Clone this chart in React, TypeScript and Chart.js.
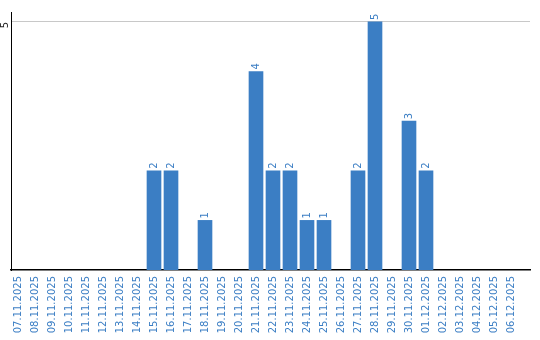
import React, { useEffect, useRef } from "react";
import { Chart, registerables } from "chart.js";

Chart.register(...registerables);

const dates = [
  "07.11.2025", "08.11.2025", "09.11.2025", "10.11.2025", "11.11.2025",
  "12.11.2025", "13.11.2025", "14.11.2025", "15.11.2025", "16.11.2025",
  "17.11.2025", "18.11.2025", "19.11.2025", "20.11.2025", "21.11.2025",
  "22.11.2025", "23.11.2025", "24.11.2025", "25.11.2025", "26.11.2025",
  "27.11.2025", "28.11.2025", "29.11.2025", "30.11.2025", "01.12.2025",
  "02.12.2025", "03.12.2025", "04.12.2025", "05.12.2025", "06.12.2025",
];
const counts = [
  0, 0, 0, 0, 0, 0, 0, 0, 2, 2,
  0, 1, 0, 0, 4, 2, 2, 1, 1, 0,
  2, 5, 0, 3, 2, 0, 0, 0, 0, 0,
];
const yTicks = [5];

const BLUE = "#3b7ec4";
const FONT = "DejaVu Sans";

const valueLabels = {
  id: "valueLabels",
  afterDatasetsDraw(chart: any) {
    const ctx = chart.ctx;
    const meta = chart.getDatasetMeta(0);
    ctx.save();
    ctx.fillStyle = BLUE;
    ctx.font = `10px "${FONT}"`;
    ctx.textAlign = "left";
    ctx.textBaseline = "middle";
    meta.data.forEach((el: any, i: number) => {
      const v = counts[i];
      if (!v) return;
      ctx.save();
      ctx.translate(el.x, el.y - 2);
      ctx.rotate(-Math.PI / 2);
      ctx.fillText(String(v), 0, 0);
      ctx.restore();
    });
    ctx.restore();
  },
};

export default function App() {
  const ref = useRef<HTMLCanvasElement>(null);
  useEffect(() => {
    if (!ref.current) return;
    const chart = new Chart(ref.current, {
      type: "bar",
      data: {
        datasets: [
          {
            data: counts.map((v, i) => ({ x: i, y: v === 0 ? null : v })),
            backgroundColor: BLUE,
            barThickness: 14,
            borderWidth: 0,
          },
        ],
      },
      options: {
        animation: false,
        responsive: true,
        maintainAspectRatio: false,
        layout: { padding: { top: 10, right: 10, left: 0, bottom: 0 } },
        plugins: {
          legend: { display: false },
          tooltip: { enabled: false },
        },
        scales: {
          x: {
            type: "linear",
            min: -0.4118,
            max: 30.118,
            offset: false,
            grid: { display: false, drawTicks: false },
            border: { display: true, color: "#000", width: 1.5 },
            afterBuildTicks: (scale: any) => {
              scale.ticks = dates.map((_, i) => ({ value: i }));
            },
            afterFit: (scale: any) => {
              scale.height = 70;
            },
            ticks: {
              autoSkip: false,
              minRotation: 90,
              maxRotation: 90,
              padding: 6,
              color: BLUE,
              font: { family: FONT, size: 10 },
              callback: (v: any) => dates[v] ?? "",
            },
          },
          y: {
            min: 0,
            max: 5.2,
            grid: { color: "#c8c8c8", lineWidth: 1, drawTicks: false },
            border: { display: true, color: "#000", width: 1 },
            afterBuildTicks: (scale: any) => {
              scale.ticks = yTicks.map((v) => ({ value: v }));
            },
            afterFit: (scale: any) => {
              scale.width = 11;
            },
            ticks: {
              minRotation: 90,
              maxRotation: 90,
              padding: 6,
              color: "#222",
              font: { family: FONT, size: 10 },
            },
          },
        },
      },
      plugins: [valueLabels],
    });
    return () => chart.destroy();
  }, []);
  return (
    <div style={{ position: "fixed", left: 0, top: 0, width: 540, height: 340, background: "#fff" }}>
      <canvas ref={ref} />
    </div>
  );
}
